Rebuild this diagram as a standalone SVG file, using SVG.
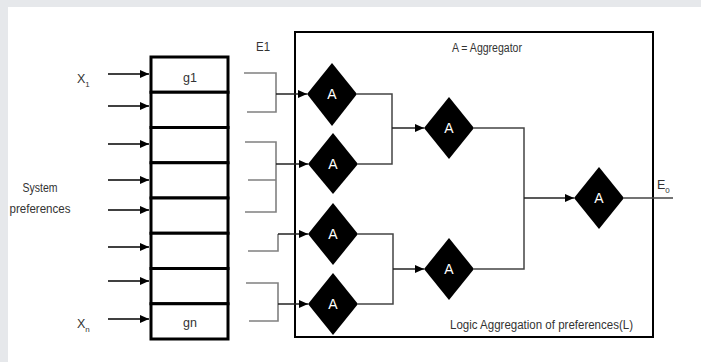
<svg xmlns="http://www.w3.org/2000/svg" width="701" height="362" viewBox="0 0 701 362">
<defs>
<marker id="ah" markerWidth="10" markerHeight="8" refX="9" refY="4" orient="auto" markerUnits="userSpaceOnUse">
<path d="M0,0 L9,4 L0,8 Z" fill="#000"/>
</marker>
<style>
.t{font-family:"Liberation Sans",Arial,sans-serif;font-size:12.5px;fill:#333}
.a{font-family:"Liberation Sans",Arial,sans-serif;font-size:14px;fill:#fff;text-anchor:middle}
.row{fill:#fff;stroke:#000;stroke-width:3}
.dia{fill:#000}
.in{stroke:#000;stroke-width:1.5;fill:none;marker-end:url(#ah)}
.br{stroke:#808080;stroke-width:1.6;fill:none}
.ln{stroke:#444;stroke-width:1.5;fill:none}
.arr{stroke:#222;stroke-width:1.5;fill:none;marker-end:url(#ah)}
</style>
</defs>
<rect x="0" y="0" width="701" height="362" fill="#e6e8eb"/>
<rect x="8" y="7" width="693" height="355" fill="#fff"/>

<g id="labels">
<text class="t" x="77" y="83">X<tspan font-size="8" dy="4">1</tspan></text>
<text class="t" x="77" y="328">X<tspan font-size="8" dy="4">n</tspan></text>
<text class="t" x="40" y="192" text-anchor="middle" textLength="35" lengthAdjust="spacingAndGlyphs">System</text>
<text class="t" x="40" y="213" text-anchor="middle" textLength="61" lengthAdjust="spacingAndGlyphs">preferences</text>
<text class="t" x="256" y="51" textLength="14" lengthAdjust="spacingAndGlyphs">E1</text>
<text class="t" x="657" y="189">E<tspan font-size="8" dy="4">0</tspan></text>
</g>

<g id="aggregator-box">
<rect x="295" y="32" width="358" height="305" fill="none" stroke="#000" stroke-width="2"/>
<text class="t" x="452" y="52" textLength="70" lengthAdjust="spacingAndGlyphs">A = Aggregator</text>
<text class="t" x="633" y="329" text-anchor="end" textLength="183" lengthAdjust="spacingAndGlyphs">Logic Aggregation of preferences(L)</text>
</g>

<g id="preference-column">
<rect class="row" x="151" y="57" width="77" height="35.25"/>
<rect class="row" x="151" y="92.25" width="77" height="35.25"/>
<rect class="row" x="151" y="127.5" width="77" height="35.25"/>
<rect class="row" x="151" y="162.75" width="77" height="35.25"/>
<rect class="row" x="151" y="198" width="77" height="35.25"/>
<rect class="row" x="151" y="233.25" width="77" height="35.25"/>
<rect class="row" x="151" y="268.5" width="77" height="35.25"/>
<rect class="row" x="151" y="303.75" width="77" height="35.25"/>
<text class="t" x="190" y="82" text-anchor="middle">g1</text>
<text class="t" x="190" y="327" text-anchor="middle">gn</text>
</g>

<g id="A1"><polygon class="dia" points="332,63 357,94 332,126 307,94"/><text class="a" x="332" y="99">A</text></g>
<g id="A2"><polygon class="dia" points="333,133 358,164 333,194 308,164"/><text class="a" x="333" y="169">A</text></g>
<g id="A3"><polygon class="dia" points="333,203 358,234 333,265 308,234"/><text class="a" x="333" y="239">A</text></g>
<g id="A4"><polygon class="dia" points="333,273 358,304 333,335 308,304"/><text class="a" x="333" y="309">A</text></g>
<g id="A5"><polygon class="dia" points="449,97 474,128 449,159 424,128"/><text class="a" x="449" y="133">A</text></g>
<g id="A6"><polygon class="dia" points="449,238 474,269 449,300 424,269"/><text class="a" x="449" y="274">A</text></g>
<g id="A7"><polygon class="dia" points="599,167 624,198 599,229 574,198"/><text class="a" x="599" y="203">A</text></g>

<g id="connectors">
<path class="in" d="M108,74 H149"/>
<path class="in" d="M108,106 H149"/>
<path class="in" d="M108,144 H149"/>
<path class="in" d="M108,180 H149"/>
<path class="in" d="M108,210 H149"/>
<path class="in" d="M108,247 H149"/>
<path class="in" d="M108,281 H149"/>
<path class="in" d="M108,319 H149"/>

<path class="br" d="M244,73 H276 V112 H247"/>
<path class="br" d="M245,142 H276 V212 H245 M248,180 H276"/>
<path class="br" d="M248,251 H278 V234"/>
<path class="br" d="M246,283 H278 V321 H249"/>

<path class="arr" d="M276,94 H307"/>
<path class="arr" d="M276,164 H308"/>
<path class="arr" d="M278,234 H308"/>
<path class="arr" d="M278,304 H308"/>

<path class="ln" d="M357,94 H392 V164 H358"/>
<path class="arr" d="M392,128 H424"/>
<path class="ln" d="M358,234 H393 V304 H358"/>
<path class="arr" d="M393,269 H424"/>
<path class="ln" d="M474,128 H524 V269 H474"/>
<path class="arr" d="M524,198 H574"/>
<path class="ln" d="M624,198 H673"/>
</g>
</svg>
